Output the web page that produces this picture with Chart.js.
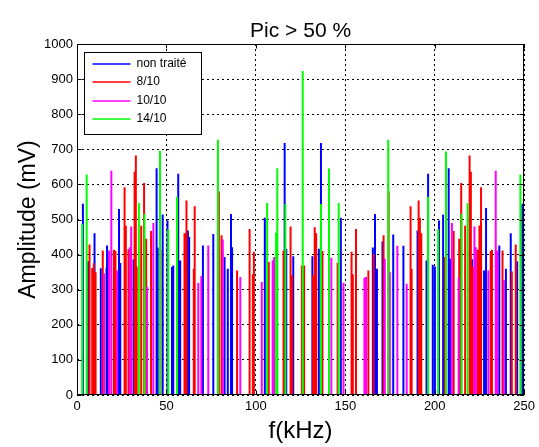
<!DOCTYPE html>
<html>
<head>
<meta charset="utf-8">
<title>Pic > 50 %</title>
<script src="https://cdn.jsdelivr.net/npm/chart.js@4/dist/chart.umd.min.js"></script>
<style>
  html, body { margin: 0; padding: 0; background: #fff; }
  #wrap { width: 539px; height: 447px; position: relative; }
</style>
</head>
<body>
<div id="wrap"><canvas id="c" width="539" height="447"></canvas></div>
<script>
// Peak frequencies (kHz) and amplitudes (mV) for each treatment
const freqNonTraite = [3.3, 6.3, 9.8, 13.3, 16.5, 16.8, 23.5, 24.2, 31.6, 44.5, 45.1, 47.9, 50.6, 53.1, 53.8, 56.6, 57.7, 62.0, 62.7, 70.4, 76.2, 82.5, 84.3, 86.1, 86.7, 105.0, 116.1, 117.0, 120.9, 131.6, 135.2, 136.4, 147.5, 165.4, 166.6, 167.7, 170.8, 176.8, 182.5, 190.4, 195.4, 196.3, 198.9, 200.1, 202.4, 204.7, 207.8, 208.7, 220.9, 227.6, 228.7, 236.1, 239.8, 242.5, 246.1, 249.0];
const ampNonTraite  = [545, 381, 461, 361, 362, 426, 530, 376, 387, 646, 420, 514, 497, 365, 369, 630, 383, 469, 450, 426, 459, 393, 360, 516, 421, 505, 718, 416, 395, 395, 417, 718, 505, 420, 516, 360, 437, 457, 425, 469, 383, 630, 371, 366, 497, 514, 646, 388, 387, 355, 533, 426, 360, 461, 381, 545];

const freq8_10 = [7.0, 8.5, 9.4, 10.4, 14.4, 20.7, 21.5, 26.6, 27.3, 28.8, 32.2, 32.9, 33.4, 35.9, 37.5, 38.7, 41.4, 46.6, 60.1, 61.2, 65.3, 65.8, 79.3, 80.8, 89.5, 96.5, 98.3, 98.9, 107.2, 115.5, 119.1, 119.6, 120.2, 125.7, 127.0, 132.0, 132.9, 133.7, 137.2, 145.7, 153.5, 154.2, 156.0, 162.9, 165.8, 171.4, 174.2, 186.5, 187.1, 191.0, 191.7, 192.5, 205.6, 210.6, 213.7, 214.8, 217.0, 219.5, 220.2, 221.3, 223.9, 225.0, 225.9, 231.3, 232.0, 237.9, 243.1, 245.3];
const amp8_10  = [429, 362, 375, 350, 412, 414, 410, 592, 482, 415, 636, 682, 366, 482, 604, 445, 467, 414, 461, 554, 360, 538, 580, 455, 355, 473, 344, 408, 379, 412, 461, 480, 341, 369, 369, 341, 478, 461, 410, 377, 408, 344, 473, 355, 402, 455, 580, 538, 359, 554, 505, 461, 393, 467, 445, 604, 482, 682, 636, 366, 414, 483, 592, 410, 414, 412, 352, 429];

const freq10_10 = [15.1, 17.9, 19.2, 22.4, 29.6, 30.3, 39.2, 42.7, 67.8, 69.5, 73.4, 81.5, 91.3, 103.3, 109.4, 110.2, 142.2, 149.0, 160.7, 161.6, 172.1, 174.9, 179.1, 184.3, 209.6, 213.4, 222.2, 223.0, 230.0, 234.1, 235.0, 238.7];
const amp10_10  = [346, 412, 639, 355, 421, 480, 308, 490, 319, 339, 426, 443, 336, 322, 383, 393, 391, 320, 334, 336, 388, 350, 425, 317, 490, 334, 480, 421, 355, 639, 412, 327];

const freq14_10 = [2.9, 5.4, 34.6, 37.7, 46.4, 51.0, 55.9, 78.8, 106.3, 111.3, 112.0, 116.5, 126.2, 136.4, 140.9, 146.3, 174.0, 196.3, 201.9, 206.3, 215.0, 218.4, 247.9, 250.0];
const amp14_10  = [488, 628, 547, 516, 696, 472, 565, 727, 547, 462, 646, 544, 923, 544, 645, 547, 727, 565, 472, 694, 516, 547, 628, 490];

const seriesNames = ['non traité', '8/10', '10/10', '14/10'];
const chartTitle = 'Pic > 50 %';
const xTicks = [0, 50, 100, 150, 200, 250];
const yTicks = [0, 100, 200, 300, 400, 500, 600, 700, 800, 900, 1000];

const X_MIN = 0, X_MAX = 250, Y_MIN = 0, Y_MAX = 1000;
const colors = ['#0000ff', '#ff0000', '#ff00ff', '#00ff00'];

// Each series is one polyline running along the baseline with a vertical spike per peak
function spikeLine(freqs, amps) {
  const idx = freqs.map((_, i) => i).sort((a, b) => freqs[a] - freqs[b]);
  const pts = [{ x: X_MIN, y: 0 }];
  idx.forEach(i => {
    pts.push({ x: freqs[i], y: 0 });
    pts.push({ x: freqs[i], y: amps[i] });
    pts.push({ x: freqs[i], y: 0 });
  });
  pts.push({ x: X_MAX, y: 0 });
  return pts;
}

const seriesData = [
  spikeLine(freqNonTraite, ampNonTraite),
  spikeLine(freq8_10, amp8_10),
  spikeLine(freq10_10, amp10_10),
  spikeLine(freq14_10, amp14_10)
];

const FONT = '"Liberation Sans", Arial, Helvetica, sans-serif';
Chart.defaults.font.family = FONT;
Chart.defaults.color = '#000';

// Title over the plot, box around the plot, inward ticks on all four sides, boxed legend
const frameAndLegend = {
  id: 'frameAndLegend',
  afterDatasetsDraw(chart) {
    const { ctx, chartArea: a, scales: { x, y } } = chart;
    const L = Math.round(a.left) + 0.5, R = Math.round(a.right) - 0.5;
    const T = Math.round(a.top) + 0.5, B = Math.round(a.bottom) - 0.5;
    const tl = 4;
    ctx.save();
    ctx.strokeStyle = '#000';
    ctx.lineWidth = 1;
    ctx.setLineDash([]);
    ctx.beginPath();
    xTicks.forEach(v => {
      const px = Math.round(x.getPixelForValue(v)) + 0.5;
      ctx.moveTo(px, B); ctx.lineTo(px, B - tl);
      ctx.moveTo(px, T); ctx.lineTo(px, T + tl);
    });
    yTicks.forEach(v => {
      const py = Math.round(y.getPixelForValue(v)) + 0.5;
      ctx.moveTo(L, py); ctx.lineTo(L + tl, py);
      ctx.moveTo(R, py); ctx.lineTo(R - tl, py);
    });
    ctx.stroke();
    ctx.strokeRect(L, T, R - L, B - T);

    // title, centred over the plot area
    ctx.fillStyle = '#000';
    ctx.font = '21px ' + FONT;
    ctx.textAlign = 'center';
    ctx.textBaseline = 'middle';
    ctx.fillText(chartTitle, (a.left + a.right) / 2, 31);

    // legend
    const lx = L + 7, ly = T + 8, lw = 117, lh = 82;
    ctx.fillStyle = '#fff';
    ctx.fillRect(lx, ly, lw, lh);
    ctx.strokeStyle = '#000';
    ctx.strokeRect(lx, ly, lw, lh);
    ctx.font = '12px ' + FONT;
    ctx.textBaseline = 'middle';
    ctx.textAlign = 'left';
    seriesNames.forEach((name, i) => {
      const yy = Math.round(ly + 11 + i * 18.5);
      ctx.strokeStyle = colors[i];
      ctx.lineWidth = 1.5;
      ctx.beginPath();
      ctx.moveTo(lx + 8, yy); ctx.lineTo(lx + 46, yy);
      ctx.stroke();
      ctx.fillStyle = '#000';
      ctx.fillText(name, lx + 52, yy);
    });
    ctx.restore();
  }
};

new Chart(document.getElementById('c'), {
  type: 'line',
  data: {
    datasets: seriesData.map((pts, i) => ({
      label: seriesNames[i],
      data: pts,
      borderColor: colors[i],
      backgroundColor: colors[i],
      borderWidth: 2,
      pointRadius: 0,
      tension: 0,
      fill: false,
      order: 4 - i
    }))
  },
  options: {
    responsive: false,
    animation: false,
    events: [],
    layout: { padding: { left: 0, right: 10, top: 44, bottom: 0 } },
    plugins: {
      legend: { display: false },
      tooltip: { enabled: false },
      title: { display: false }
    },
    scales: {
      x: {
        type: 'linear',
        min: X_MIN, max: X_MAX,
        afterBuildTicks: s => { s.ticks = xTicks.map(v => ({ value: v })); },
        afterFit: s => { s.height = 52; },
        ticks: { color: '#000', font: { size: 13 }, padding: 4, maxRotation: 0, callback: v => String(v) },
        grid: { color: '#000', lineWidth: 1, drawTicks: false },
        border: { display: false, dash: [2, 3] },
        title: { display: true, text: 'f(kHz)', color: '#000', font: { size: 24 }, padding: { top: 0, bottom: 1 } }
      },
      y: {
        type: 'linear',
        min: Y_MIN, max: Y_MAX,
        afterBuildTicks: s => { s.ticks = yTicks.map(v => ({ value: v })); },
        afterFit: s => { s.width = 77; },
        ticks: { color: '#000', font: { size: 13 }, padding: 4, callback: v => String(v) },
        grid: { color: '#000', lineWidth: 1, drawTicks: false },
        border: { display: false, dash: [2, 3] },
        title: { display: true, text: 'Amplitude (mV)', color: '#000', font: { size: 23 }, padding: { top: 15, bottom: 0 } }
      }
    }
  },
  plugins: [frameAndLegend]
});
</script>
</body>
</html>
